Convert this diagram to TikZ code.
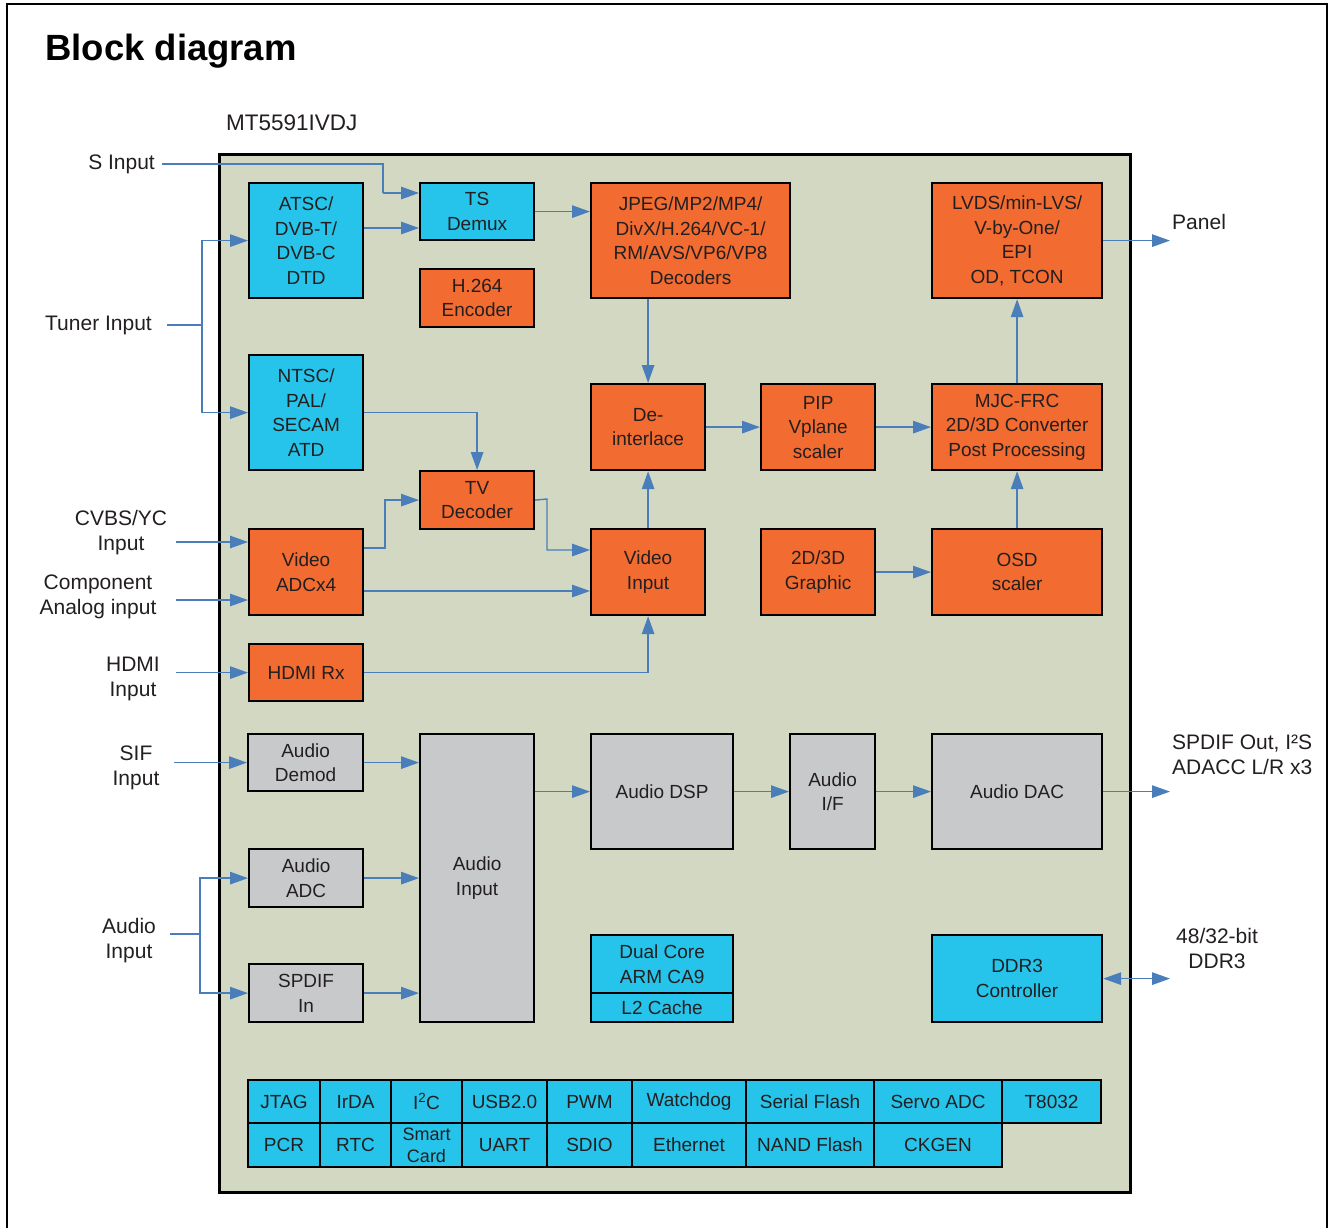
\documentclass[tikz,border=0pt]{standalone}
\usepackage{fontspec}
\setmainfont{Liberation Sans}
\usetikzlibrary{arrows.meta}
\definecolor{cyanb}{HTML}{26C4EA}
\definecolor{orangeb}{HTML}{F26B30}
\definecolor{grayb}{HTML}{C8C9CB}
\definecolor{chipbg}{HTML}{D3D8C3}
\definecolor{arrblue}{HTML}{4A7EBB}
\definecolor{txt}{HTML}{231F20}
\newcommand{\mkblock}[7]{\node[#1, anchor=north west, minimum width={(#4-#2)*1pt}, minimum height={(#5-#3)*1pt}] (#6) at (#2,#3) {#7};}
\begin{document}
\begin{tikzpicture}[x=1pt,y=-1pt,
  box/.style={draw=black, line width=2.2pt, inner sep=0pt, align=center, text=txt, font=\fontsize{19}{24.5}\selectfont},
  cy/.style={box, fill=cyanb},
  orb/.style={box, fill=orangeb},
  grb/.style={box, fill=grayb},
  cell/.style={box, fill=cyanb, line width=2pt},
  chipst/.style={draw=black, line width=3pt, fill=chipbg, inner sep=0pt},
  arr/.style={draw=arrblue, line width=1.4pt, -{Triangle[length=18pt,width=12.5pt]}},
  darr/.style={draw=arrblue, line width=1.4pt, {Triangle[length=18pt,width=12.5pt]}-{Triangle[length=18pt,width=12.5pt]}},
  ln/.style={draw=arrblue, line width=1.4pt},
  lbl/.style={font=\fontsize{21}{25}\selectfont, text=txt, align=center, inner sep=0pt}]
\useasboundingbox (0,0) rectangle (1332,1227);
\fill[white] (0,0) rectangle (1332,1227);
\draw[line width=2.5pt] (7,1240) -- (7,4) -- (1327,4) -- (1327,1240);

\node[anchor=base west, inner sep=0pt, font=\fontsize{36.5}{40}\selectfont\bfseries] (title) at (45,60) {Block diagram};
\node[anchor=west, inner sep=0pt, font=\fontsize{22.5}{26}\selectfont, text=txt] (chipname) at (226,123) {MT5591IVDJ};

\mkblock{chipst}{218}{153}{1129}{1191}{chip}{}

% video blocks
\mkblock{cy}{248}{182}{362}{297}{atsc}{ATSC/\\DVB-T/\\DVB-C\\DTD}
\mkblock{cy}{419}{182}{533}{239}{tsd}{TS\\Demux}
\mkblock{orb}{419}{268}{533}{326}{enc}{H.264\\Encoder}
\mkblock{orb}{590}{182}{789}{297}{jpeg}{JPEG/MP2/MP4/\\DivX/H.264/VC-1/\\RM/AVS/VP6/VP8\\Decoders}
\mkblock{orb}{931}{182}{1101}{297}{lvds}{LVDS/min-LVS/\\V-by-One/\\EPI\\OD, TCON}
\mkblock{cy}{248}{354}{362}{469}{ntsc}{NTSC/\\PAL/\\SECAM\\ATD}
\mkblock{orb}{590}{383}{704}{469}{deint}{De-\\interlace}
\mkblock{orb}{760}{383}{874}{469}{pip}{PIP\\Vplane\\scaler}
\mkblock{orb}{931}{383}{1101}{469}{mjc}{MJC-FRC\\2D/3D Converter\\Post Processing}
\mkblock{orb}{419}{470}{533}{528}{tvd}{TV\\Decoder}
\mkblock{orb}{248}{528}{362}{614}{adc}{Video\\ADCx4}
\mkblock{orb}{590}{528}{704}{614}{vi}{Video\\Input}
\mkblock{orb}{760}{528}{874}{614}{gfx}{2D/3D\\Graphic}
\mkblock{orb}{931}{528}{1101}{614}{osd}{OSD\\scaler}
\mkblock{orb}{248}{643}{362}{700}{hdmi}{HDMI Rx}

% audio blocks
\mkblock{grb}{247}{733}{362}{790}{demod}{Audio\\Demod}
\mkblock{grb}{248}{848}{362}{906}{aadc}{Audio\\ADC}
\mkblock{grb}{248}{963}{362}{1021}{spdif}{SPDIF\\In}
\mkblock{grb}{419}{733}{533}{1021}{ain}{Audio\\Input}
\mkblock{grb}{590}{733}{732}{848}{dsp}{Audio DSP}
\mkblock{grb}{789}{733}{874}{848}{aif}{Audio\\I/F}
\mkblock{grb}{931}{733}{1101}{848}{dac}{Audio DAC}

\mkblock{cy}{590}{934}{732}{992}{arm}{Dual Core\\ARM CA9}
\mkblock{cy}{590}{992}{732}{1021}{l2}{L2 Cache}
\mkblock{cy}{931}{934}{1101}{1021}{ddr}{DDR3\\Controller}

% peripherals
\mkblock{cell}{247}{1079}{319}{1122}{p1}{JTAG}
\mkblock{cell}{319}{1079}{390}{1122}{p2}{IrDA}
\mkblock{cell}{390}{1079}{461}{1122}{p3}{I\textsuperscript{2}C}
\mkblock{cell}{461}{1079}{546}{1122}{p4}{USB2.0}
\mkblock{cell}{546}{1079}{631}{1122}{p5}{PWM}
\mkblock{cell}{631}{1079}{745}{1122}{p6}{Watchdog}
\mkblock{cell}{745}{1079}{873}{1122}{p7}{Serial Flash}
\mkblock{cell}{873}{1079}{1001}{1122}{p8}{Servo ADC}
\mkblock{cell}{1001}{1079}{1100}{1122}{p9}{T8032}
\mkblock{cell}{247}{1122}{319}{1166}{q1}{PCR}
\mkblock{cell}{319}{1122}{390}{1166}{q2}{RTC}
\mkblock{cell,font=\fontsize{18}{22}\selectfont}{390}{1122}{461}{1166}{q3}{Smart\\Card}
\mkblock{cell}{461}{1122}{546}{1166}{q4}{UART}
\mkblock{cell}{546}{1122}{631}{1166}{q5}{SDIO}
\mkblock{cell}{631}{1122}{745}{1166}{q6}{Ethernet}
\mkblock{cell}{745}{1122}{873}{1166}{q7}{NAND Flash}
\mkblock{cell}{873}{1122}{1001}{1166}{q8}{CKGEN}

% outside labels
\node[lbl, anchor=east] (sin) at (155,164) {S Input};
\node[lbl, anchor=east] (tun) at (152,325) {Tuner Input};
\node[lbl] (cvbs) at (121,533) {CVBS/YC\\Input};
\node[lbl] (comp) at (98,596.5) {Component\\Analog input};
\node[lbl] (hdmiin) at (133,678.5) {HDMI\\Input};
\node[lbl] (sif) at (136,767.5) {SIF\\Input};
\node[lbl] (audin) at (129,940.5) {Audio\\Input};
\node[lbl, anchor=west] (panel) at (1172,222) {Panel};
\node[lbl, anchor=west, align=left] (aout) at (1172,755) {SPDIF Out, I²S\\ADACC L/R x3};
\node[lbl] (ddrl) at (1217,948) {48/32-bit\\DDR3};

\coordinate (cvbsS) at (176,542);
\coordinate (compS) at (176,600);
\coordinate (hdmiS) at (176,672);
\coordinate (sifS) at (174,761.5);
\coordinate (tj) at (202,325);
\coordinate (aj) at (200,934);
\coordinate (panelE) at (1170,239.5);
\coordinate (aoutE) at (1170,790.5);
\coordinate (ddrE) at (1170,977.5);

% connectors
\draw[ln] ([xshift=7pt]sin.east) -- (383,164) -- (383,193);
\draw[arr] (383,193) -- (tsd.west |- 0,193);
\draw[arr] (atsc.east |- 0,228) -- (tsd.west |- 0,228);
\draw[ln] ([xshift=15pt]tun.east) -- (tj);
\draw[arr] (tj) |- (atsc.west);
\draw[arr] (tj) |- (ntsc.west);
\draw[arr] (tsd.east) -- (tsd.east -| jpeg.west);
\draw[arr] (jpeg.south -| deint.north) -- (deint.north);
\draw[arr] (deint.east) -- (pip.west);
\draw[arr] (pip.east) -- (mjc.west);
\draw[arr] (mjc.north) -- (lvds.south);
\draw[arr] (lvds.east) -- (lvds.east -| panelE);
\draw[arr] (ntsc.east) -| (tvd.north);
\draw[arr] (adc.east |- 0,548) -- (385,548) |- (tvd.west);
\draw[arr] (tvd.east) -- (547,499) |- (vi.west |- 0,550);
\draw[arr] (adc.east |- 0,591) -- (vi.west |- 0,591);
\draw[arr] (hdmi.east) -| (vi.south);
\draw[arr] (vi.north) -- (deint.south);
\draw[arr] (gfx.east) -- (osd.west);
\draw[arr] (osd.north) -- (mjc.south);
\draw[arr] (cvbsS) -- (adc.west |- cvbsS);
\draw[arr] (compS) -- (adc.west |- compS);
\draw[arr] (hdmiS |- hdmi.west) -- (hdmi.west);
\draw[arr] (sifS |- demod.west) -- (demod.west);
\draw[ln] ([xshift=14pt]audin.east |- aj) -- (aj);
\draw[arr] (aj) |- (aadc.west);
\draw[arr] (aj) |- (spdif.west);
\draw[arr] (demod.east) -- (demod.east -| ain.west);
\draw[arr] (aadc.east) -- (aadc.east -| ain.west);
\draw[arr] (spdif.east) -- (spdif.east -| ain.west);
\draw[arr] (ain.east |- dsp.west) -- (dsp.west);
\draw[arr] (dsp.east) -- (aif.west);
\draw[arr] (aif.east) -- (dac.west);
\draw[arr] (dac.east) -- (dac.east -| aoutE);
\draw[darr] (ddr.east) -- (ddr.east -| ddrE);
\end{tikzpicture}
\end{document}
